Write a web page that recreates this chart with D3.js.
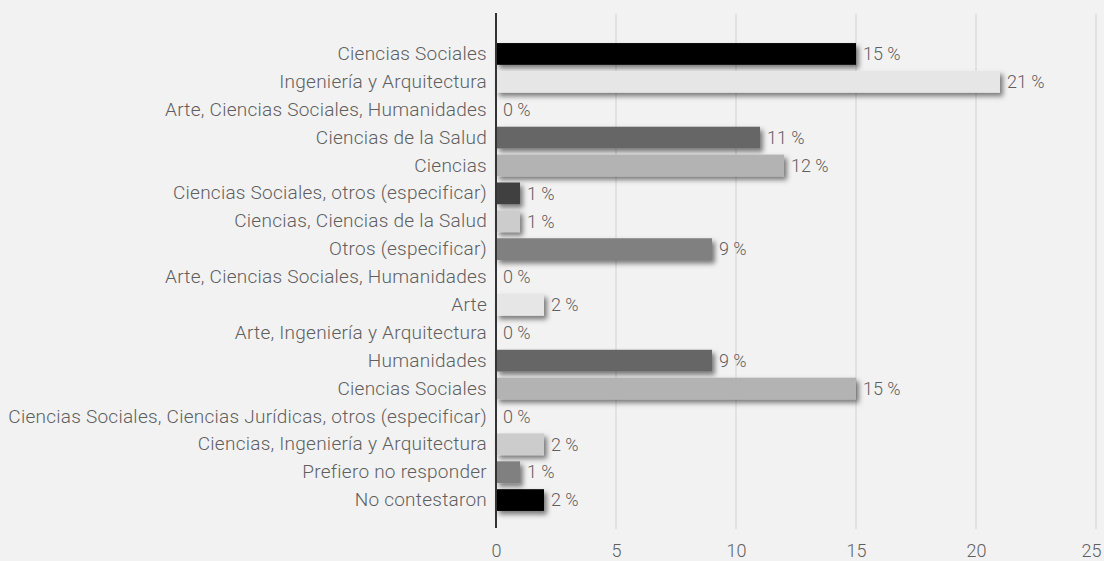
<!DOCTYPE html>
<html>
<head>
<meta charset="utf-8">
<script src="https://cdn.jsdelivr.net/npm/d3@7"></script>
<style>
  html, body { margin: 0; padding: 0; background: #f2f2f2; }
  svg { display: block; }
  text { font-family: Roboto, "Noto Sans", sans-serif; font-weight: 300; }
</style>
</head>
<body>
<svg id="chart" width="1104" height="561"></svg>
<script>
// Área de estudio de los encuestados (%)
const categories = [
  "Ciencias Sociales",
  "Ingeniería y Arquitectura",
  "Arte, Ciencias Sociales, Humanidades",
  "Ciencias de la Salud",
  "Ciencias",
  "Ciencias Sociales, otros (especificar)",
  "Ciencias, Ciencias de la Salud",
  "Otros (especificar)",
  "Arte, Ciencias Sociales, Humanidades",
  "Arte",
  "Arte, Ingeniería y Arquitectura",
  "Humanidades",
  "Ciencias Sociales",
  "Ciencias Sociales, Ciencias Jurídicas, otros (especificar)",
  "Ciencias, Ingeniería y Arquitectura",
  "Prefiero no responder",
  "No contestaron"
];
const values = [15, 21, 0, 11, 12, 1, 1, 9, 0, 2, 0, 9, 15, 0, 2, 1, 2];
const barColors = [
  "#000000", "#e6e6e6", "#333333", "#666666", "#b3b3b3", "#404040",
  "#cccccc", "#808080", "#999999", "#e6e6e6", "#333333", "#666666",
  "#b3b3b3", "#404040", "#cccccc", "#808080", "#000000"
];
const xTicks = [0, 5, 10, 15, 20, 25];

const svg = d3.select("#chart");
const W = 1104, H = 561;

svg.append("rect").attr("width", W).attr("height", H).attr("fill", "#f2f2f2");

const defs = svg.append("defs");
const shadow = defs.append("filter").attr("id", "barShadow")
  .attr("x", "-20%").attr("y", "-40%").attr("width", "160%").attr("height", "200%");
shadow.append("feDropShadow")
  .attr("dx", 3).attr("dy", 3.5).attr("stdDeviation", 2.5)
  .attr("flood-color", "#000").attr("flood-opacity", 0.5);

const x = d3.scaleLinear().domain([0, 25]).range([496, 1096]);
const y = d3.scaleBand()
  .domain(d3.range(categories.length))
  .range([40, 514])
  .paddingInner(0.22)
  .paddingOuter(0.11);

const plotTop = 14, plotBottom = 529;
const textColor = "#5f5f5f";

// vertical gridlines
svg.append("g").selectAll("line")
  .data(xTicks.filter(t => t > 0))
  .join("line")
  .attr("x1", d => x(d)).attr("x2", d => x(d))
  .attr("y1", plotTop).attr("y2", plotBottom)
  .attr("stroke", "#d9d9d9").attr("stroke-width", 1.3);

// x axis tick labels
const xAxis = d3.axisBottom(x).tickValues(xTicks).tickSize(0).tickPadding(0);
const gx = svg.append("g").attr("transform", `translate(0,${plotBottom + 12})`).call(xAxis);
gx.select(".domain").remove();
gx.selectAll("text")
  .attr("dy", "0.9em")
  .attr("fill", textColor)
  .style("font-size", "18px");
// keep the last tick label inside the right edge
gx.selectAll(".tick").filter(d => d === d3.max(xTicks)).select("text").attr("x", -5);

// bars
svg.append("g").selectAll("rect")
  .data(values)
  .join("rect")
  .attr("x", x(0))
  .attr("y", (d, i) => y(i))
  .attr("width", d => x(d) - x(0))
  .attr("height", y.bandwidth())
  .attr("fill", (d, i) => barColors[i])
  .attr("filter", "url(#barShadow)");

// category axis
const yAxis = d3.axisLeft(y).tickFormat(i => categories[i]).tickSize(0).tickPadding(9);
const gy = svg.append("g").attr("transform", `translate(${x(0)},0)`).call(yAxis);
gy.select(".domain").remove();
gy.selectAll("text")
  .attr("fill", textColor)
  .style("font-size", "19px")
  .style("letter-spacing", "0.25px");

svg.append("line")
  .attr("x1", x(0)).attr("x2", x(0))
  .attr("y1", 13).attr("y2", 528)
  .attr("stroke", "#333333").attr("stroke-width", 2);

// value labels
svg.append("g").selectAll("text")
  .data(values)
  .join("text")
  .attr("x", d => x(d) + 7)
  .attr("y", (d, i) => y(i) + y.bandwidth() / 2)
  .attr("dy", "0.35em")
  .attr("fill", textColor)
  .style("font-size", "18px")
  .text(d => `${d} %`);
</script>
</body>
</html>
